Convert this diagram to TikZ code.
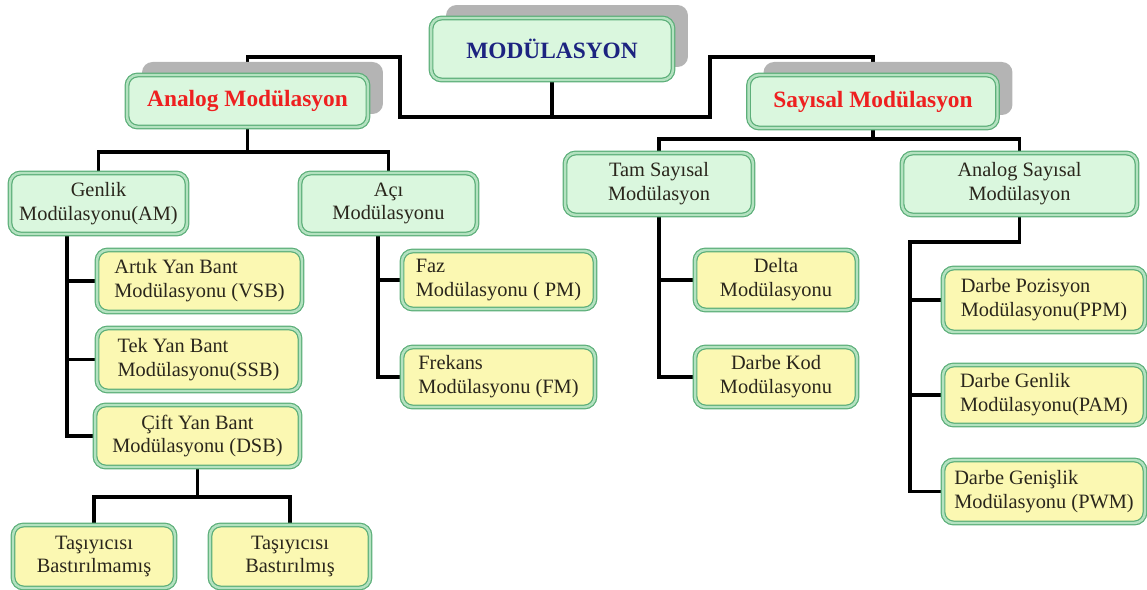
\documentclass[tikz,border=0pt]{standalone}
\usepackage{fontspec}
\setmainfont{Liberation Serif}
\usetikzlibrary{backgrounds,shadows}
\definecolor{boxline}{HTML}{5DAF7A}
\definecolor{boxgap}{HTML}{B4E2C0}
\definecolor{mintfill}{HTML}{DAF7DE}
\definecolor{lemonfill}{HTML}{FBF8B2}
\definecolor{navytext}{HTML}{1C2380}
\definecolor{redtext}{HTML}{EE2020}
\definecolor{inktext}{HTML}{2A261C}
\definecolor{shadowgray}{HTML}{B4B4B4}
\tikzset{
  box/.style={draw=boxline, double=boxgap, double distance=1.4pt, line width=0.7pt,
    rounded corners=6pt, align=center, inner sep=2pt,
    font=\fontsize{11.6}{13.6}\selectfont, text=inktext},
  topbox/.style={box, fill=mintfill, font=\fontsize{13.3}{15}\selectfont\bfseries,
    drop shadow={shadow xshift=0.3cm, shadow yshift=0.26cm, fill=shadowgray, opacity=1}},
  midbox/.style={box, fill=mintfill},
  leafbox/.style={box, fill=lemonfill},
  link/.style={line width=2.2pt, black}
}

\begin{document}
\begin{tikzpicture}[x=0.02cm, y=-0.02cm]
	\useasboundingbox (0, 0) rectangle (1147, 590);
	%%%%% TOP %%%%%
	\node[topbox, text=navytext, minimum width=4.84cm, minimum height=1.24cm] (mod) at (552, 49) {MODÜLASYON};
	\node[topbox, text=redtext, minimum width=4.82cm, minimum height=1.04cm] (analog) at (247.5, 101) {Analog Modülasyon};
	\node[topbox, text=redtext, minimum width=4.98cm, minimum height=1.06cm] (sayisal) at (873, 101.5) {Sayısal Modülasyon};
	
	%%%%% SECOND ROW %%%%%
	\node[midbox, minimum width=3.54cm, minimum height=1.22cm] (genlik) at (98.5, 203.5) {Genlik\\Modülasyonu(AM)};
	\node[midbox, minimum width=3.54cm, minimum height=1.22cm] (aci) at (388.5, 203.5) {Açı\\Modülasyonu};
	\node[midbox, minimum width=3.76cm, minimum height=1.24cm] (tam) at (659, 184) {Tam Sayısal\\Modülasyon};
	\node[midbox, minimum width=4.7cm, minimum height=1.24cm] (asay) at (1019.5, 184) {Analog Sayısal\\Modülasyon};
	
	%%%%% LEAVES %%%%%
	\node[leafbox, align=left, minimum width=4.1cm, minimum height=1.24cm] (vsb) at (199.5, 281) {Artık Yan Bant\\Modülasyonu (VSB)};
	\node[leafbox, align=left, minimum width=4.06cm, minimum height=1.26cm] (ssb) at (198.5, 359.5) {Tek Yan Bant\\Modülasyonu(SSB)};
	\node[leafbox, minimum width=4.1cm, minimum height=1.24cm] (dsb) at (197.5, 436) {Çift Yan Bant\\Modülasyonu (DSB)};
	\node[leafbox, minimum width=3.24cm, minimum height=1.26cm] (tb1) at (94, 556.5) {Taşıyıcısı\\Bastırılmamış};
	\node[leafbox, minimum width=3.2cm, minimum height=1.26cm] (tb2) at (290, 556.5) {Taşıyıcısı\\Bastırılmış};
	
	\node[leafbox, align=left, minimum width=3.86cm, minimum height=1.16cm] (pm) at (498.5, 280) {Faz\\Modülasyonu ( PM)};
	\node[leafbox, align=left, minimum width=3.86cm, minimum height=1.2cm] (fm) at (498.5, 377) {Frekans\\Modülasyonu (FM)};
	
	\node[leafbox, minimum width=3.24cm, minimum height=1.2cm] (delta) at (776, 280) {Delta\\Modülasyonu};
	\node[leafbox, minimum width=3.24cm, minimum height=1.2cm] (pcm) at (776, 377) {Darbe Kod\\Modülasyonu};
	
	\node[leafbox, align=left, minimum width=4.04cm, minimum height=1.28cm] (ppm) at (1044, 300) {Darbe Pozisyon\\Modülasyonu(PPM)};
	\node[leafbox, align=left, minimum width=4.04cm, minimum height=1.2cm] (pam) at (1044, 395) {Darbe Genlik\\Modülasyonu(PAM)};
	\node[leafbox, align=left, minimum width=4.04cm, minimum height=1.26cm] (pwm) at (1044, 491.5) {Darbe Genişlik\\Modülasyonu (PWM)};
	
	%%%%% LINKS %%%%%
	\coordinate (jl) at (400, 57);
	\coordinate (jr) at (710, 57);
	\coordinate (jm) at (552, 117);
	\coordinate (ja) at (247.5, 152);
	\coordinate (js) at (873, 139);
	\coordinate (jg) at (67, 0);
	\coordinate (jc) at (378, 0);
	\coordinate (jt) at (910, 242);
	\coordinate (jd) at (197.5, 497);
	
	\begin{pgfonlayer}{background}
		\draw[link] (mod.south) -- (jm);
		\draw[link] (analog.north) |- (jl) -- (jl |- jm) -- (jr |- jm) -- (jr) -| (sayisal.north);
		
		\draw[link] (analog.south) -- (ja);
		\draw[link] (genlik.north) |- (ja) -| (aci.north);
		\draw[link] (sayisal.south) -- (js);
		\draw[link] (tam.north) |- (js) -| (asay.north);
		
		\draw[link] (jg |- genlik.south) |- (dsb.west);
		\draw[link] (jg |- vsb) -- (vsb.west);
		\draw[link] (jg |- ssb) -- (ssb.west);
		
		\draw[link] (dsb.south) -- (jd);
		\draw[link] (tb1.north) |- (jd) -| (tb2.north);
		
		\draw[link] (jc |- aci.south) |- (fm.west);
		\draw[link] (jc |- pm) -- (pm.west);
		
		\draw[link] (tam.south) |- (pcm.west);
		\draw[link] (tam.south |- delta) -- (delta.west);
		
		\draw[link] (asay.south) |- (jt) |- (pwm.west);
		\draw[link] (jt |- ppm) -- (ppm.west);
		\draw[link] (jt |- pam) -- (pam.west);
	\end{pgfonlayer}
\end{tikzpicture}
\end{document}
